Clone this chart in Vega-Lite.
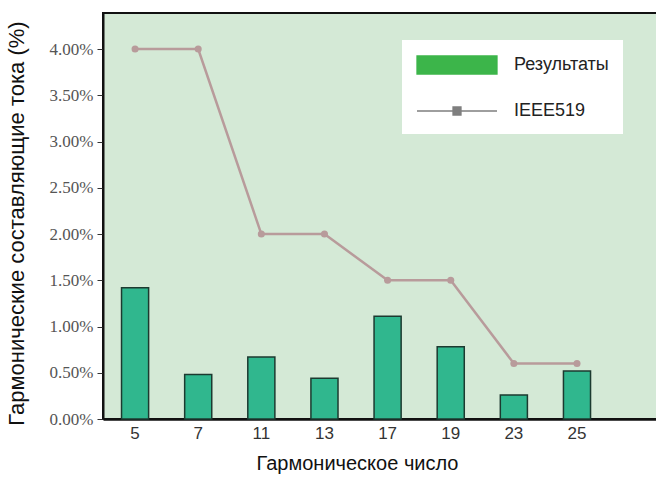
{
  "$schema": "https://vega.github.io/schema/vega-lite/v6.json",
  "width": 556,
  "height": 406,
  "autosize": {"type": "none"},
  "padding": {"left": 103, "top": 13, "right": 0, "bottom": 65},
  "background": "white",
  "data": {
    "values": [
      {"harmonic": "5", "results": 1.42, "ieee": 4.0},
      {"harmonic": "7", "results": 0.48, "ieee": 4.0},
      {"harmonic": "11", "results": 0.67, "ieee": 2.0},
      {"harmonic": "13", "results": 0.44, "ieee": 2.0},
      {"harmonic": "17", "results": 1.11, "ieee": 1.5},
      {"harmonic": "19", "results": 0.78, "ieee": 1.5},
      {"harmonic": "23", "results": 0.26, "ieee": 0.6},
      {"harmonic": "25", "results": 0.52, "ieee": 0.6}
    ]
  },
  "encoding": {
    "x": {
      "field": "harmonic",
      "type": "ordinal",
      "sort": null,
      "title": "Гармоническое число",
      "scale": {"paddingInner": 0.571, "paddingOuter": 0.689, "align": 0.213},
      "axis": {
        "labelAngle": 0,
        "labelFont": "Liberation Sans",
        "labelFontSize": 17,
        "labelColor": "#333",
        "labelPadding": 6,
        "ticks": false,
        "domainColor": "#111",
        "domainWidth": 2.5,
        "titleFont": "Liberation Sans",
        "titleFontSize": 20,
        "titleFontWeight": "normal",
        "titleColor": "#111",
        "titleX": 254,
        "titleAnchor": "middle",
        "titlePadding": 12
      }
    }
  },
  "layer": [
    {
      "mark": {"type": "bar", "stroke": "#1c3a30", "strokeWidth": 1.5},
      "encoding": {
        "y": {
          "field": "results",
          "type": "quantitative",
          "title": "Гармонические составляющие тока (%)",
          "scale": {"domain": [0, 4.39], "nice": false},
          "axis": {
            "values": [0, 0.5, 1, 1.5, 2, 2.5, 3, 3.5, 4],
            "labelExpr": "format(datum.value, '.2f') + '%'",
            "labelFont": "Liberation Serif",
            "labelFontSize": 17,
            "labelColor": "#555",
            "labelPadding": 4,
            "tickSize": 6,
            "tickColor": "#333",
            "grid": false,
            "domainColor": "#111",
            "domainWidth": 2,
            "titleFont": "Liberation Sans",
            "titleFontSize": 22,
            "titleFontWeight": "normal",
            "titleColor": "#111",
            "titleY": 210,
            "titlePadding": 21
          }
        },
        "color": {
          "datum": "Результаты",
          "condition": {"test": "true", "value": "#30b78e"},
          "legend": {
            "encode": {
              "symbols": {
                "update": {
                  "shape": {"signal": "datum.value === 'IEEE519' ? 'M-1,0H7M2.6,-0.4H3.4V0.4H2.6Z' : 'M-1,-0.9H7V0.9H-1Z'"},
                  "strokeWidth": {"value": 1.3},
                  "opacity": {"value": 1}
                }
              }
            }
          }
        }
      }
    },
    {
      "mark": {
        "type": "line",
        "strokeWidth": 2.5,
        "point": {"filled": true, "size": 50}
      },
      "encoding": {
        "y": {"field": "ieee", "type": "quantitative"},
        "color": {
          "datum": "IEEE519",
          "condition": {"test": "true", "value": "#b89b9b"},
          "legend": {
            "encode": {
              "symbols": {
                "update": {
                  "shape": {"signal": "datum.value === 'IEEE519' ? 'M-1,0H7M2.6,-0.4H3.4V0.4H2.6Z' : 'M-1,-0.9H7V0.9H-1Z'"},
                  "strokeWidth": {"value": 1.3},
                  "opacity": {"value": 1}
                }
              }
            }
          }
        }
      }
    }
  ],
  "resolve": {"scale": {"y": "shared"}},
  "config": {
    "view": {"fill": "#d4e9d6", "stroke": "#111", "strokeWidth": 2},
    "range": {"category": ["#3cb54a", "#7f7f7f"]},
    "legend": {
      "orient": "none",
      "legendX": 299,
      "legendY": 27,
      "title": null,
      "fillColor": "white",
      "padding": 14,
      "symbolSize": 400,
      "labelFont": "Liberation Sans",
      "labelFontSize": 18,
      "labelColor": "#222",
      "labelOffset": 76,
      "rowPadding": 23
    }
  }
}
